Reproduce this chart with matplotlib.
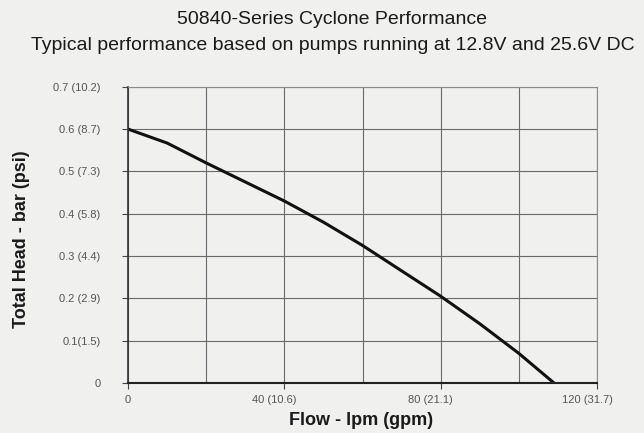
import numpy as np
import matplotlib as mpl
mpl.use('Agg')
import matplotlib.pyplot as plt
from matplotlib.transforms import ScaledTranslation

# curve
flow = [0, 10, 20, 30, 40, 50, 60, 70, 80, 90, 100, 109]
head = [0.6, 0.567, 0.52, 0.475, 0.43, 0.38, 0.325, 0.265, 0.205, 0.14, 0.07, 0.0]

yticks = [0, 0.1, 0.2, 0.3, 0.4, 0.5, 0.6, 0.7]
ylabels = ["0", "0.1(1.5)", "0.2 (2.9)", "0.3 (4.4)", "0.4 (5.8)",
           "0.5 (7.3)", "0.6 (8.7)", "0.7 (10.2)"]
xticks = [0, 40, 80, 120]
xlabels = ["0", "40 (10.6)", "80 (21.1)", "120 (31.7)"]

plt.rcParams['font.family'] = ['Liberation Sans', 'DejaVu Sans']

bg = '#f0f0ee'
fig = plt.figure(figsize=(6.44, 4.33), dpi=100, facecolor=bg)
ax = fig.add_axes([0.199, 0.1155, 0.728, 0.684], facecolor=bg)

ax.plot(flow, head, color='#111111', lw=2.2, solid_capstyle='round')

ax.set_xlim(0, 120)
ax.set_ylim(0, 0.7)
ax.set_xticks(xticks)
ax.set_xticklabels(xlabels)
ax.set_xticks(np.arange(20, 120, 40), minor=True)
ax.set_yticks(yticks)
ax.set_yticklabels(ylabels)

ax.grid(True, which='both', color='#6a6a6a', lw=0.8)
ax.tick_params(axis='both', which='both', labelsize=8, labelcolor='#555555',
               color='#444444', length=4)
ax.tick_params(axis='x', which='minor', length=0)
ax.tick_params(axis='y', pad=16)
ax.tick_params(axis='x', pad=5)

# the scan puts the non-zero flow labels a little left of their gridlines
shift = ScaledTranslation(-0.1, 0, fig.dpi_scale_trans)
for lbl in ax.get_xticklabels()[1:]:
    lbl.set_transform(lbl.get_transform() + shift)

for s in ['top', 'right']:
    ax.spines[s].set_color('#8a8a8a')
    ax.spines[s].set_linewidth(0.8)
ax.spines['left'].set_color('#333333')
ax.spines['left'].set_linewidth(1.2)
ax.spines['bottom'].set_color('#222222')
ax.spines['bottom'].set_linewidth(1.5)

fig.text(0.516, 0.955, "50840-Series Cyclone Performance", ha='center', va='center',
         fontsize=14, color='#1a1a1a')
fig.text(0.517, 0.896, "Typical performance based on pumps running at 12.8V and 25.6V DC",
         ha='center', va='center', fontsize=14, color='#1a1a1a')

fig.text(0.561, 0.03, "Flow - lpm (gpm)", ha='center', va='center',
         fontsize=13, fontweight='bold', color='#1a1a1a')
fig.text(0.034, 0.448, "Total Head - bar (psi)", ha='center', va='center',
         rotation=90, fontsize=13, fontweight='bold', color='#1a1a1a')

fig.savefig('out.png', dpi=100, facecolor=bg)
